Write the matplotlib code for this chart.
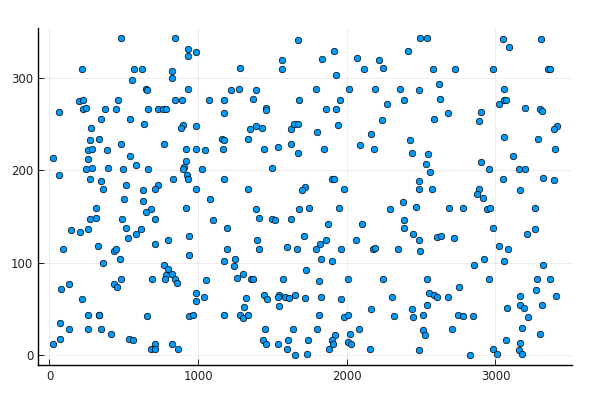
import matplotlib
matplotlib.use("Agg")
import matplotlib.pyplot as plt

x_values = [
    478, 842, 216, 571, 622, 824, 824, 553, 652, 656, 198, 227, 461, 842, 62, 227, 243, 377, 451, 665,
    728, 761, 783, 345, 545, 638, 280, 272, 334,
    1675, 931, 985, 931, 1561, 1282, 1561, 931, 1222, 1273, 1387, 889, 1072, 1175, 1367, 1678, 1454, 1454,
    1175, 900, 887, 985, 1347, 1387, 1432, 1622, 1647, 1669, 1164, 1177, 1336,
    2494, 2541, 1913, 2411, 1836, 2071, 2219, 2116, 2241, 2581, 1926, 1792, 2017, 2192, 2358, 2487, 2621,
    1953, 2386, 2628, 1857, 1928, 2272, 2237, 2588, 1944, 1799, 2165, 2423, 2091,
    3050, 3305, 3093, 2728, 2983, 3352, 3366, 3055, 3055, 3070, 3024, 3198, 3303, 3312, 2684, 2905, 2889,
    3413, 3392, 3055, 3285,
    484, 773, 260, 283, 386, 542, 25, 260, 247, 283, 392, 495, 580, 661, 62, 272, 345, 828, 515, 732,
    708, 357, 627, 502, 627, 314, 685, 652, 272, 314, 486, 710, 515, 144, 203, 260, 616, 582, 529, 797,
    327, 710, 89, 431, 451,
    1624, 916, 985, 1048, 1166, 1443, 1537, 1673, 920, 904, 895, 1028, 1494, 922, 931, 1175, 985, 1336,
    1720, 1698, 1083, 916, 1387, 1680, 1749, 1099, 1410, 1494, 1519, 1628, 1197, 940, 1398, 1714, 1197,
    1410, 1600, 1665, 938,
    1848, 2181, 2440, 2547, 2534, 2561, 1901, 1917, 1984, 2487, 2485, 2574, 2380, 1950, 2292, 2467, 1877,
    2103, 2386, 2386, 2447, 2485, 1857, 1819, 1792, 1964, 2060, 2176, 2192, 2346, 2494, 2604, 2631,
    3399, 3120, 2901, 2954, 3160, 3198, 3050, 3317, 3392, 2887, 2876, 2914, 3162, 2686, 2780, 2946, 2966,
    3263, 2983, 3263, 3209, 2718, 3024, 3087,
    359, 473, 77, 133, 431, 455, 480, 687, 768, 797, 781, 775, 826, 842, 857, 216, 70, 260, 332, 335,
    659, 25, 70, 133, 260, 345, 412, 535, 560, 685, 710, 710, 826, 864,
    1175, 1251, 1240, 1305, 1262, 1353, 1369, 1573, 1727, 1052, 989, 983, 1038, 1323, 1445, 1465, 1546,
    1537, 1582, 1613, 1649, 1720, 1546, 1309, 938, 964, 1175, 1280, 1305, 1336, 1452, 1640, 1434, 1454,
    1537, 1595, 1608, 1655, 1732, 1738,
    1828, 1899, 1814, 2011, 2243, 2541, 1828, 1964, 2302, 2552, 2584, 2610, 2165, 2438, 2541, 1814, 1982,
    2007, 2319, 2445, 2510, 1803, 2085, 2514, 2527, 1924, 1899, 1910, 1881, 2024, 2007, 2029, 2156, 2485,
    2921, 2858, 3057, 3317, 2959, 3278, 3368, 2755, 2681, 3164, 3272, 3410, 3075, 3164, 3189, 3310, 2747,
    2782, 2847, 3221, 2708, 3176, 3303, 3070, 3167, 3156, 3176, 2986, 3008, 2827,
]

y_values = [
    343, 343, 309, 309, 309, 307, 299, 297, 288, 286, 275, 276, 276, 276, 263, 266, 267, 266, 266, 266,
    266, 266, 266, 255, 255, 250, 245, 233, 234,
    341, 331, 328, 323, 319, 310, 309, 288, 287, 288, 287, 276, 276, 276, 277, 276, 267, 265,
    262, 249, 245, 248, 244, 248, 245, 244, 250, 250, 234, 233, 234,
    343, 343, 329, 329, 320, 321, 319, 309, 310, 309, 303, 288, 288, 288, 288, 287, 293,
    276, 276, 277, 266, 266, 271, 254, 255, 249, 241, 239, 233, 227,
    342, 342, 333, 309, 309, 309, 309, 288, 276, 276, 271, 267, 266, 264, 262, 263, 253,
    248, 244, 236, 234,
    228, 228, 222, 223, 222, 215, 213, 212, 201, 202, 202, 201, 205, 201, 195, 190, 188, 190, 184, 184,
    180, 180, 179, 169, 167, 159, 158, 155, 147, 148, 147, 147, 138, 135, 133, 136, 136, 131, 127, 125,
    118, 120, 115, 113, 115,
    228, 223, 223, 222, 223, 223, 225, 218, 210, 203, 201, 201, 202, 195, 190, 190, 180, 180,
    182, 179, 169, 159, 158, 158, 159, 146, 148, 147, 146, 147, 137, 129, 125, 129, 115,
    115, 117, 115, 108,
    223, 223, 219, 217, 207, 198, 190, 190, 180, 188, 180, 180, 166, 159, 158, 160, 142,
    142, 146, 138, 131, 125, 125, 120, 115, 115, 125, 115, 116, 115, 113, 128, 129,
    223, 215, 209, 201, 201, 201, 190, 191, 189, 180, 174, 170, 178, 159, 159, 158, 159,
    159, 137, 136, 131, 127, 118, 115,
    100, 104, 72, 77, 77, 74, 82, 82, 98, 93, 87, 82, 88, 82, 78, 61, 35, 43, 44, 43,
    42, 12, 18, 28, 28, 28, 23, 18, 17, 7, 12, 7, 12, 7,
    102, 104, 96, 88, 83, 82, 82, 82, 92, 81, 67, 59, 63, 62, 65, 61, 65,
    63, 63, 62, 65, 62, 53, 52, 42, 43, 43, 43, 40, 43, 28, 28, 16, 12,
    12, 7, 17, 0, 1, 17,
    104, 102, 80, 82, 82, 82, 63, 61, 63, 67, 65, 63, 50, 50, 54, 43, 41,
    43, 42, 41, 43, 28, 28, 27, 22, 22, 17, 12, 7, 23, 14, 12, 7, 6,
    104, 97, 102, 98, 82, 82, 82, 74, 63, 64, 70, 64, 51, 54, 51, 54, 43,
    42, 42, 41, 28, 29, 23, 17, 13, 6, 1, 7, 1, 0,
]

x_ticks = [0, 1000, 2000, 3000]
y_ticks = [0, 100, 200, 300]

fig = plt.figure(figsize=(6, 4), dpi=100)
ax = fig.add_axes([38 / 600, 1 - 365 / 400, 534 / 600, 337 / 400])

ax.scatter(x_values, y_values, s=22, c="#009AFA", edgecolors="black",
           linewidths=0.5, zorder=3)

ax.set_xlim(-77, 3515)
ax.set_ylim(-10.5, 353.5)
ax.set_xticks(x_ticks)
ax.set_yticks(y_ticks)
ax.grid(True, color="black", alpha=0.1, linewidth=0.5)
ax.set_axisbelow(True)
for side in ("top", "right"):
    ax.spines[side].set_visible(False)
for side in ("left", "bottom"):
    ax.spines[side].set_linewidth(1.0)
ax.tick_params(direction="in", length=4, width=0.6, labelsize=8.5,
               colors="black", labelcolor="#222222")

fig.savefig("out.png", dpi=100)
